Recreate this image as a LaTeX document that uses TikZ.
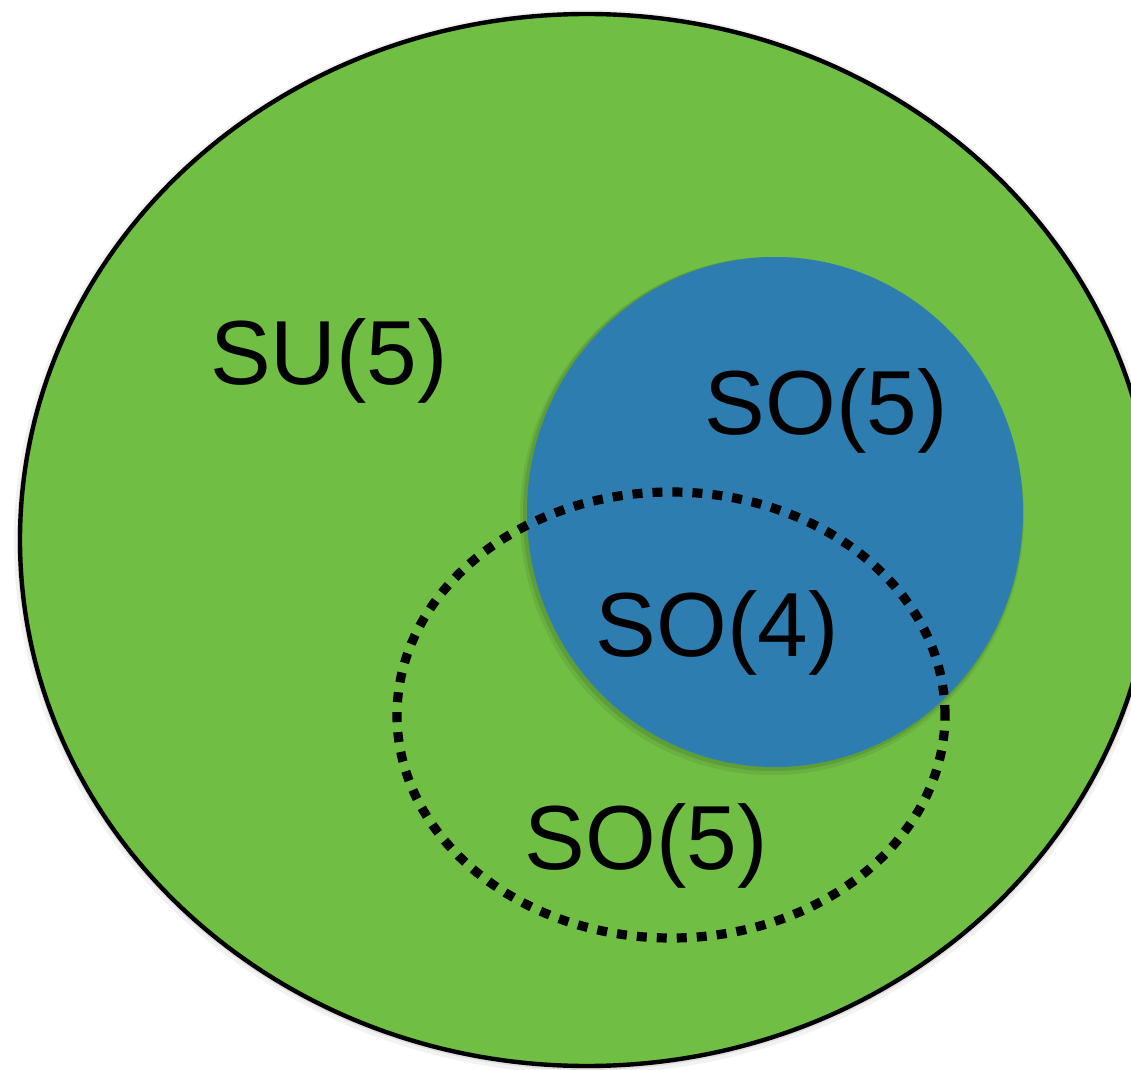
\documentclass[tikz,border=0pt]{standalone}
\usepackage{fontspec}
\setmainfont{Liberation Sans}
\definecolor{sugreen}{RGB}{112,190,68}
\definecolor{soblue}{RGB}{46,125,176}
\begin{document}
\begin{tikzpicture}[x=0.5pt,y=-0.5pt,
  lbl/.style={font=\fontsize{45.5}{54}\selectfont, inner sep=0pt, anchor=base, text=black},
  shade ring/.style={fill=black, opacity=#1},
  outerset/.style={fill=sugreen, draw=black, line width=2.2pt},
  innerset/.style={fill=soblue},
  dotset/.style={draw=black, line width=4.6pt, dash pattern=on 5pt off 5pt}]
\useasboundingbox (0,0) rectangle (1131,1070);
\begin{scope}
\clip (0,0) rectangle (1131,1070);
% soft shadow of the big set
\fill[shade ring=0.05] (587,542) ellipse [x radius=286.5pt, y radius=266pt];
\fill[shade ring=0.08] (587,541) ellipse [x radius=285pt, y radius=264.5pt];
\draw[outerset] (587,540) ellipse [x radius=283.5pt, y radius=263pt];
% soft shadow of the blue set
\fill[shade ring=0.07] (772,516) ellipse [x radius=126pt, y radius=129.5pt];
\fill[shade ring=0.10] (773,514) ellipse [x radius=125pt, y radius=128.5pt];
\fill[innerset] (775,512) ellipse [x radius=124pt, y radius=127.5pt];
% dotted set
\draw[dotset] (671,715) ellipse [x radius=137pt, y radius=111.5pt];
\end{scope}
\node[lbl] (su5) at (329,384) {SU(5)};
\node[lbl] (so5a) at (826,434) {SO(5)};
\node[lbl] (so4) at (717,656) {SO(4)};
\node[lbl] (so5b) at (646,869) {SO(5)};
\end{tikzpicture}
\end{document}
